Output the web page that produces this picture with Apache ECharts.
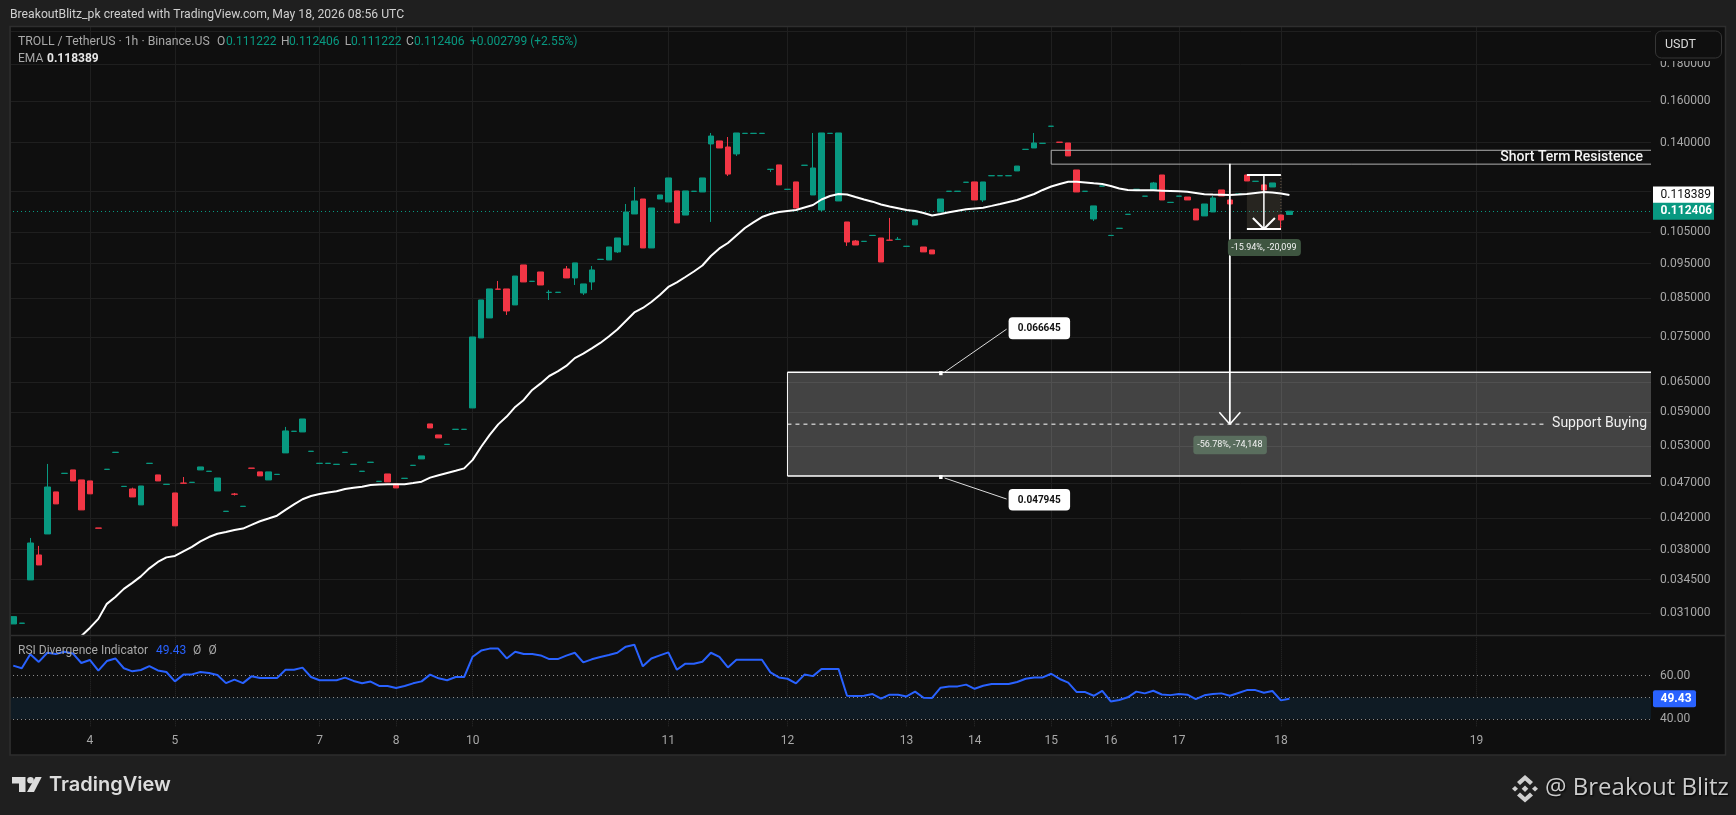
<!DOCTYPE html>
<html><head><meta charset="utf-8">
<style>html,body{margin:0;padding:0;background:#1f1f1f;overflow:hidden}#c{width:1736px;height:815px}</style>
<script src="https://cdn.jsdelivr.net/npm/echarts@6/dist/echarts.min.js"></script>
</head><body><div id="c"></div>
<script>
const slotCount = 193;
const dayIndex = [9,19,36,45,54,77,91,105,113,122,129,137,149,172];
const dayLabels = ['4','5','7','8','10','11','12','13','14','15','16','17','18','19'];

const priceTicks = [0.18,0.16,0.14,0.105,0.095,0.085,0.075,0.065,0.059,0.053,0.047,0.042,0.038,0.0345,0.031];
const priceGridOnly = [0.2,0.12];

const opens = [.02994,.03000,.03448,.03735,.03995,.04571,.04850,.04905,.04750,.04735,
.04072,.04913,.05188,.04651,.04615,.04385,.05008,.04827,.04682,.04556,
.04703,.04712,.04905,.04882,.04585,.04294,.04540,.04363,.04934,.04874,
.04750,.04834,.05180,.05550,.05540,.05205,.05008,.05008,.04992,.05188,
.04992,.04882,.05025,.04727,.04842,.04689,.04773,.04976,.05081,.05684,
.05487,.05322,.05585,.05585,.05983,.07488,.07983,.08757,.08761,.08323,
.09461,.08975,.09251,.08664,.08664,.09341,.09075,.08649,.08960,.09630,
.09614,.09865,.10086,.11140,.11689,.09991,.11689,.11578,.11994,.11103,
.11978,.11955,.13944,.14078,.13808,.13505,.14422,.14422,.14422,.12852,
.13037,.12054,.12345,.13020,.11840,.11285,.14422,.11615,.10859,.10217,
.10202,.10398,.10316,.10245,.10268,.10041,.10757,.10022,.09927,.11213,
.11978,.11978,.12330,.12345,.11652,.12592,.12592,.12592,.12789,.13702,
.13765,.13970,.14755,.14024,.13987,.12828,.11978,.10964,.12181,.10398,
.10637,.11125,.12054,.11792,.12032,.12624,.11560,.11792,.11763,.11321,
.11071,.11213,.12032,.11652,.11873,.12624,.12368,.12228,.12147,.11103,
.111222];
const closes = [.03065,.03002,.03881,.03617,.04644,.04399,.04853,.04735,.04315,.04543,
.04069,.04916,.05191,.04654,.04498,.04659,.05011,.04735,.04685,.04100,
.04700,.04715,.04952,.04885,.04780,.04297,.04537,.04366,.04931,.04812,
.04874,.04837,.05558,.05553,.05775,.05208,.05011,.05011,.04995,.05191,
.04995,.04885,.05028,.04730,.04720,.04630,.04776,.04979,.05130,.05611,
.05435,.05325,.05588,.05588,.07511,.08457,.08761,.08753,.08164,.09131,
.08960,.08980,.08873,.08669,.08669,.09075,.09524,.08903,.09311,.09635,
.10022,.10316,.11213,.11615,.09991,.11357,.11840,.12504,.10825,.11994,
.11983,.12504,.14303,.13765,.12660,.14443,.14428,.14428,.14428,.12857,
.12228,.12059,.11357,.13025,.12910,.14443,.14428,.14443,.10184,.10086,
.10207,.10403,.09552,.10240,.10273,.10046,.10929,.09865,.09802,.11689,
.11983,.11983,.12335,.11652,.12345,.12597,.12597,.12597,.12990,.13707,
.13987,.13975,.14761,.14018,.13419,.11955,.11983,.11433,.12186,.10403,
.10642,.11130,.12059,.11797,.12305,.11652,.11565,.11797,.11652,.10929,
.11503,.11727,.11802,.11503,.11878,.12384,.12373,.12032,.12305,.10929,
.112406];
const wickHighs = {2:.03944,3:.03845,4:.05000,14:.04634,20:.04795,26:.04556,32:.05630,57:.08988,63:.08733,65:.09430,68:.09430,72:.11503,73:.12147,82:.14443,84:.14258,94:.14443,99:.10250,103:.11000,104:.10349,120:.14443,134:.12345,141:.11802};
const wickLows = {26:.04519,58:.08060,63:.08457,66:.08873,67:.08594,68:.08733,71:.09833,82:.10859,84:.12584,85:.13419,89:.12746,95:.11213,98:.10056,114:.11578,127:.10895,149:.10584};

const emaValues = [null,null,null,null,null,null,null,null,.02880,.02956,
.03043,.03193,.03265,.03350,.03415,.03487,.03578,.03652,.03706,.03723,
.03778,.03832,.03900,.03956,.03998,.04021,.04047,.04064,.04112,.04161,
.04198,.04236,.04315,.04391,.04465,.04512,.04542,.04564,.04581,.04615,
.04634,.04649,.04674,.04683,.04684,.04684,.04686,.04704,.04724,.04786,
.04823,.04858,.04892,.04929,.05065,.05283,.05487,.05676,.05820,.06002,
.06138,.06338,.06473,.06628,.06726,.06845,.07019,.07119,.07240,.07369,
.07521,.07694,.07907,.08126,.08243,.08403,.08593,.08817,.08945,.09103,
.09266,.09446,.09738,.09975,.10151,.10398,.10652,.10844,.11031,.11140,
.11213,.11249,.11285,.11376,.11467,.11670,.11802,.11878,.11859,.11763,
.11670,.11589,.11485,.11412,.11349,.11285,.11249,.11177,.11085,.11140,
.11206,.11260,.11307,.11339,.11368,.11433,.11503,.11578,.11652,.11763,
.11878,.12032,.12166,.12263,.12353,.12353,.12322,.12290,.12263,.12186,
.12090,.12032,.12025,.12021,.12017,.12005,.11994,.11979,.11963,.11917,
.11867,.11855,.11848,.11840,.11855,.11878,.11917,.11955,.11936,.11898,
.118389];

const rsiValues = [64.6,63.4,69.8,66.3,70.5,69.9,71,70.2,65.8,67.2,
62.3,66.7,67.9,63.4,62,62.6,64.4,62.4,61.7,57.4,
60.5,60.6,61.7,61.2,60.3,56.6,58.2,56.6,59.7,58.9,
58.9,58.9,62.7,62.7,63.7,59.4,57.9,57.9,57.9,59.1,
57.6,56.5,57.3,55.3,55.3,54.4,55.3,56.5,57.4,60.5,
58.8,57.9,59.4,59.4,68.7,71.5,72.4,72.4,67.9,71,
69.9,69.9,69.3,67.6,67.6,69.2,70.5,66.1,67.5,68.6,
69.5,70.5,73.3,74.2,64.3,67.9,69.3,70.7,62.7,65.5,
65.5,66.4,70.5,68.6,63.8,67.3,67.3,67.3,67.3,61.5,
59.2,58.6,56.5,60.5,59.8,63.1,63.1,63.1,50.8,50.7,
50.8,51.6,49.5,51.3,51.3,50.5,52.7,49.9,49.8,54.5,
55.1,55.1,55.9,54,55.4,56.2,56.2,56.2,57.1,58.6,
59.2,59.2,60.9,58.5,56.8,52.5,52.5,50.8,53,48.2,
48.9,50.1,52.7,51.9,53.1,51.4,51.1,51.6,51.3,49.3,
51,51.6,51.9,50.8,52.1,53.4,53.4,52.2,53,48.7,
49.43];
const rsiLevels = [60,50,40];

const lastPrice = 0.112406, lastEma = 0.118389, lastRsi = 49.43;
const resistance = {slot:122, top:.13664, bottom:.1307};
const supportZone = {slot:91, top:.0671, bottom:.0481, mid:.0568, calloutSlot:109};
const longArrow = {slot:143, from:.1309, to:.0568};
const shortMeasure = {slotLeft:145, slotRight:149, slotMid:147, top:.12623, bottom:.10616, mid:.11954};

const UP='#089981', DOWN='#f23645', GRID='#1f1f1f', AXIS='#a8a8a8';
const FONT='Roboto, "Liberation Sans", sans-serif';

const cats = Array.from({length:slotCount},(_,i)=>String(i));
const candle = opens.map((o,i)=>{
  const c=closes[i];
  const h = wickHighs[i]!==undefined?wickHighs[i]:Math.max(o,c);
  const l = wickLows[i]!==undefined?wickLows[i]:Math.min(o,c);
  return [o,c,l,h];
});
const isDay = i=>dayIndex.indexOf(i)>=0;

function txt(text,x,y,fill,font,align,vAlign,extra){
  return {type:'text',style:Object.assign({text:text,x:x,y:y,fill:fill,font:font,align:align||'left',verticalAlign:vAlign||'middle'},extra||{})};
}
function ln(x1,y1,x2,y2,stroke,w,dash){
  return {type:'line',shape:{x1:x1,y1:y1,x2:x2,y2:y2},style:{stroke:stroke,lineWidth:w,lineDash:dash||null}};
}
function box(x,y,w,h,fill,r,stroke){
  return {type:'rect',shape:{x:x,y:y,width:w,height:h,r:r||0},style:{fill:fill,stroke:stroke||null}};
}

function underItem(params,api){
  const cs=params.coordSys, right=cs.x+cs.width;
  const zTL=api.coord([supportZone.slot,supportZone.top]), zB=api.coord([supportZone.slot,supportZone.bottom]);
  const mT=api.coord([shortMeasure.slotLeft,shortMeasure.top]), mM=api.coord([shortMeasure.slotRight,shortMeasure.mid]), mB=api.coord([shortMeasure.slotRight,shortMeasure.bottom]);
  return {type:'group',children:[
    box(zTL[0],zTL[1],right-zTL[0],zB[1]-zTL[1],'rgba(255,255,255,0.22)'),
    box(mT[0],mT[1],mB[0]-mT[0],mM[1]-mT[1],'rgba(255,235,190,0.035)'),
    box(mT[0],mM[1],mB[0]-mT[0],mB[1]-mM[1],'rgba(255,235,190,0.10)'),
    ln(mB[0],mT[1],mB[0],mB[1],'#6a5a48',1,[1,2])
  ]};
}
function overItem(params,api){
  const cs=params.coordSys, right=cs.x+cs.width;
  const r1=api.coord([resistance.slot,resistance.top]), r2=api.coord([resistance.slot,resistance.bottom]);
  const z1=api.coord([supportZone.slot,supportZone.top]), z2=api.coord([supportZone.slot,supportZone.bottom]), zm=api.coord([supportZone.slot,supportZone.mid]);
  const ct=api.coord([supportZone.calloutSlot,supportZone.top]), cb=api.coord([supportZone.calloutSlot,supportZone.bottom]);
  const a1=api.coord([longArrow.slot,longArrow.from]), a2=api.coord([longArrow.slot,longArrow.to]);
  const mL=api.coord([shortMeasure.slotLeft,shortMeasure.top]), mR=api.coord([shortMeasure.slotRight,shortMeasure.bottom]);
  const mC=api.coord([shortMeasure.slotMid,shortMeasure.bottom]);
  const pEma=api.coord([0,lastEma]), pLast=api.coord([0,lastPrice]);
  const W='#ffffff', wl='#dcdcdc';
  const kids=[
    ln(r1[0],r1[1],right,r1[1],'#b0b0b0',1), ln(r1[0],r2[1],right,r2[1],'#b0b0b0',1), ln(r1[0],r1[1],r1[0],r2[1],'#b0b0b0',1),
    txt('Short Term Resistence',right-8,(r1[1]+r2[1])/2,'#f4f4f4','500 14px '+FONT,'right'),
    ln(z1[0],z1[1],right,z1[1],W,1.5), ln(z1[0],z2[1],right,z2[1],W,1.5), ln(z1[0],z1[1],z1[0],z2[1],W,1),
    ln(z1[0],zm[1],right-104,zm[1],W,1,[4,4]),
    txt('Support Buying',right-4,zm[1]-1,'#f0f0f0','14px '+FONT,'right'),
    ln(ct[0]+4,ct[1],ct[0]+66,ct[1]-43,wl,1),
    ln(cb[0]+4,cb[1]+2,cb[0]+66,cb[1]+23,wl,1),
    box(ct[0]-1.5,ct[1]-1,3.5,4,W), box(cb[0]-1.5,cb[1]-1,3.5,4,W),
    box(ct[0]+68,ct[1]-55,61.5,22,W,4), txt('0.066645',ct[0]+98.7,ct[1]-44,'#111','bold 10px '+FONT,'center'),
    box(cb[0]+68,cb[1]+13,61.5,21.5,W,4), txt('0.047945',cb[0]+98.7,cb[1]+24,'#111','bold 10px '+FONT,'center'),
    ln(a1[0],a1[1],a2[0],a2[1],W,1.8),
    ln(a2[0]-10.5,a2[1]-12,a2[0],a2[1],W,1.5), ln(a2[0]+10.5,a2[1]-12,a2[0],a2[1],W,1.5),
    box(a2[0]-36.5,zm[1]+11.5,73.5,18.5,'#5a6e5e',3), txt('-56.78%, -74,148',a2[0],zm[1]+21,'#f2f2f2','9px '+FONT,'center'),
    ln(mL[0],mL[1],mR[0],mL[1],W,2), ln(mL[0],mR[1],mR[0],mR[1],W,2),
    ln(mC[0],mL[1],mC[0],mR[1],W,1.5),
    ln(mC[0]-11,mR[1]-11,mC[0],mR[1],W,2), ln(mC[0]+11,mR[1]-11,mC[0],mR[1],W,2),
    box(mC[0]-36,mR[1]+10,73,17,'#3e5540',4), txt('-15.94%, -20,099',mC[0],mR[1]+18.5,'#f2f2f2','9px '+FONT,'center'),
    box(right+2,pEma[1]-8.5,61,17,'#ffffff'), txt('0.118389',right+9.5,pEma[1],'#111','12px '+FONT),
    box(right+2,pLast[1]-8.5,61,17,UP), txt('0.112406',right+9.5,pLast[1],'#fff','bold 12px '+FONT)
  ];
  return {type:'group',children:kids};
}
function rsiItem(params,api){
  const cs=params.coordSys, right=cs.x+cs.width, p=api.coord([0,lastRsi]);
  return {type:'group',children:[
    box(right+2,p[1]-8.5,43,17,'#2962ff',2), txt('49.43',right+9.5,p[1],'#fff','bold 12px '+FONT)
  ]};
}

function gtxt(text,x,y,fill,font,align,extra){
  return {type:'text',z:110,style:Object.assign({text:text,x:x,y:y,fill:fill,font:font,align:align||'left',verticalAlign:'middle'},extra||{})};
}
const graphics=[
  {type:'rect',z:-1,shape:{x:11,y:27,width:1714,height:728},style:{fill:'#0f0f0f'}},
  {type:'rect',z:100,shape:{x:0,y:27,width:10.5,height:728},style:{fill:'#1f1f1f'}},
  {type:'rect',z:100,shape:{x:10,y:26.5,width:1715.5,height:728.5},style:{fill:'none',stroke:'#2e2e2e',lineWidth:1.5}},
  {type:'line',z:100,shape:{x1:11,y1:635.5,x2:1725,y2:635.5},style:{stroke:'#2e2e2e',lineWidth:1.5}},
  {type:'rect',z:105,shape:{x:1652,y:28,width:72,height:33},style:{fill:'#0f0f0f'}},
  {type:'rect',z:106,shape:{x:1655.5,y:31,width:66,height:27,r:6},style:{fill:'#0f0f0f',stroke:'#363636',lineWidth:1}},
  gtxt('USDT',1665,44.5,'#d8d8d8','12.5px '+FONT),
  gtxt('BreakoutBlitz_pk created with TradingView.com, May 18, 2026 08:56 UTC',10,15,'#cfcfcf','12.2px '+FONT),
  gtxt('TROLL / TetherUS · 1h · Binance.US',18,42,'#a8a8a8','12.25px '+FONT),
  gtxt('O',217,42,'#a8a8a8','12px '+FONT), gtxt('0.111222',226,42,UP,'12px '+FONT),
  gtxt('H',281,42,'#a8a8a8','12px '+FONT), gtxt('0.112406',289,42,UP,'12px '+FONT),
  gtxt('L',344.8,42,'#a8a8a8','12px '+FONT), gtxt('0.111222',351,42,UP,'12px '+FONT),
  gtxt('C',406,42,'#a8a8a8','12px '+FONT), gtxt('0.112406',414,42,UP,'12px '+FONT),
  gtxt('+0.002799 (+2.55%)',470,42,UP,'12px '+FONT),
  gtxt('EMA',18,59,'#a8a8a8','12px '+FONT), gtxt('0.118389',47,59,'#e8e8e8','bold 12px '+FONT),
  gtxt('RSI Divergence Indicator',18,651,'#a8a8a8','12px '+FONT),
  gtxt('49.43',156,651,'#2962ff','12px '+FONT),
  gtxt('Ø',193,651,'#a8a8a8','12px '+FONT), gtxt('Ø',208.5,651,'#a8a8a8','12px '+FONT),
  {type:'polygon',z:110,shape:{points:[[12,777],[25.5,777],[25.5,792],[19,792],[19,783.5],[12,783.5]]},style:{fill:'#dcdcdc'}},
  {type:'circle',z:110,shape:{cx:30.5,cy:780.3,r:3.3},style:{fill:'#dcdcdc'}},
  {type:'polygon',z:110,shape:{points:[[35.5,777],[41.7,777],[34,792],[27,792]]},style:{fill:'#dcdcdc'}},
  gtxt('TradingView',49,785,'#dcdcdc','600 20px Inter, '+FONT),
  {type:'polygon',z:110,shape:{points:[[1525,775],[1533,782],[1530,785],[1525,780.5],[1520,785],[1517,782]]},style:{fill:'#cfcfcf'}},
  {type:'polygon',z:110,shape:{points:[[1525,802.5],[1533,795.5],[1530,792.5],[1525,797],[1520,792.5],[1517,795.5]]},style:{fill:'#cfcfcf'}},
  {type:'polygon',z:110,shape:{points:[[1525,785.5],[1528.3,788.8],[1525,792],[1521.7,788.8]]},style:{fill:'#cfcfcf'}},
  {type:'polygon',z:110,shape:{points:[[1515,786],[1518,788.8],[1515,791.6],[1512,788.8]]},style:{fill:'#cfcfcf'}},
  {type:'polygon',z:110,shape:{points:[[1535,786],[1538,788.8],[1535,791.6],[1532,788.8]]},style:{fill:'#cfcfcf'}},
  gtxt('@ Breakout Blitz',1545,788,'#cbcbcb','24px "Open Sans", '+FONT,'left',{textShadowColor:'#000',textShadowBlur:2,textShadowOffsetX:1,textShadowOffsetY:1})
];

const option={
  animation:false,
  backgroundColor:'#1f1f1f',
  textStyle:{fontFamily:FONT},
  graphic:{elements:graphics},
  grid:[
    {left:9,top:27,width:1642,height:608.3},
    {left:9,top:635.3,width:1642,height:91.7}
  ],
  xAxis:[
    {type:'category',gridIndex:0,data:cats,boundaryGap:true,axisLine:{show:false},axisTick:{show:false},axisLabel:{show:false},
     splitLine:{show:true,interval:(i)=>isDay(i),alignWithLabel:true,lineStyle:{color:GRID,width:1}}},
    {type:'category',gridIndex:1,data:cats,boundaryGap:true,axisLine:{show:false},axisTick:{show:false},
     axisLabel:{show:true,interval:(i)=>isDay(i),margin:8,color:AXIS,fontSize:12,fontFamily:FONT,hideOverlap:false,
       formatter:(v,i)=>{const k=dayIndex.indexOf(Number(v));return k>=0?dayLabels[k]:'';}},
     splitLine:{show:true,interval:(i)=>isDay(i),alignWithLabel:true,lineStyle:{color:'#2a2a2a',width:1,type:'dotted'}}}
  ],
  yAxis:[
    {type:'log',gridIndex:0,logBase:10,min:.02887,max:.20285,position:'right',axisLine:{show:false},axisTick:{show:false},axisLabel:{show:false},splitLine:{show:false},minorSplitLine:{show:false}},
    {type:'value',gridIndex:1,min:36.5,max:78.5,position:'right',axisLine:{show:false},axisTick:{show:false},splitLine:{show:false},
     axisLabel:{show:true,customValues:[40,60],margin:9,color:AXIS,fontSize:12,fontFamily:FONT,formatter:v=>Number(v).toFixed(2)}}
  ],
  series:[
    {type:'line',name:'priceTicks',xAxisIndex:0,yAxisIndex:0,data:[],z:1,silent:true,
     markLine:{z:1,silent:true,symbol:['none','none'],animation:false,precision:6,
       lineStyle:{color:GRID,width:1,type:'solid'},
       label:{show:true,position:'end',distance:9,color:AXIS,fontSize:12,fontFamily:FONT,formatter:p=>Number(p.value).toFixed(6)},
       emphasis:{disabled:true},
       data:priceTicks.map(v=>({yAxis:v})).concat(priceGridOnly.map(v=>({yAxis:v,label:{show:false}})))}},
    {type:'custom',name:'zones',xAxisIndex:0,yAxisIndex:0,z:2,silent:true,data:[[0,lastPrice]],encode:{x:0,y:1},renderItem:underItem,clip:false},
    {type:'candlestick',name:'TROLL / TetherUS',xAxisIndex:0,yAxisIndex:0,z:3,barWidth:6,data:candle,silent:true,
     itemStyle:{color:UP,color0:DOWN,borderColor:UP,borderColor0:DOWN,borderWidth:1},
     markLine:{z:2,silent:true,symbol:['none','none'],animation:false,precision:6,label:{show:false},emphasis:{disabled:true},
       lineStyle:{color:UP,width:1,type:[1,3]},data:[{yAxis:lastPrice}]}},
    {type:'line',name:'EMA',xAxisIndex:0,yAxisIndex:0,z:4,data:emaValues,symbol:'none',silent:true,smooth:false,connectNulls:false,
     lineStyle:{color:'#ffffff',width:2}},
    {type:'custom',name:'annotations',xAxisIndex:0,yAxisIndex:0,z:5,silent:true,data:[[0,lastPrice]],encode:{x:0,y:1},renderItem:overItem,clip:false},
    {type:'line',name:'RSI',xAxisIndex:1,yAxisIndex:1,z:4,data:rsiValues,symbol:'none',silent:true,
     lineStyle:{color:'#2962ff',width:2},
     markLine:{z:2,silent:true,symbol:['none','none'],animation:false,label:{show:false},emphasis:{disabled:true},
       lineStyle:{color:'#8c8c8c',width:1,type:[1,3]},data:rsiLevels.map(v=>({yAxis:v}))},
     markArea:{silent:true,itemStyle:{color:'#0f1b24'},emphasis:{disabled:true},data:[[{yAxis:rsiLevels[1]},{yAxis:rsiLevels[2]}]]}},
    {type:'custom',name:'rsiLast',xAxisIndex:1,yAxisIndex:1,z:5,silent:true,data:[[0,lastRsi]],encode:{x:0,y:1},renderItem:rsiItem,clip:false}
  ]
};
const chart=echarts.init(document.getElementById('c'),null,{renderer:'canvas',width:1736,height:815});
chart.setOption(option);
</script></body></html>
